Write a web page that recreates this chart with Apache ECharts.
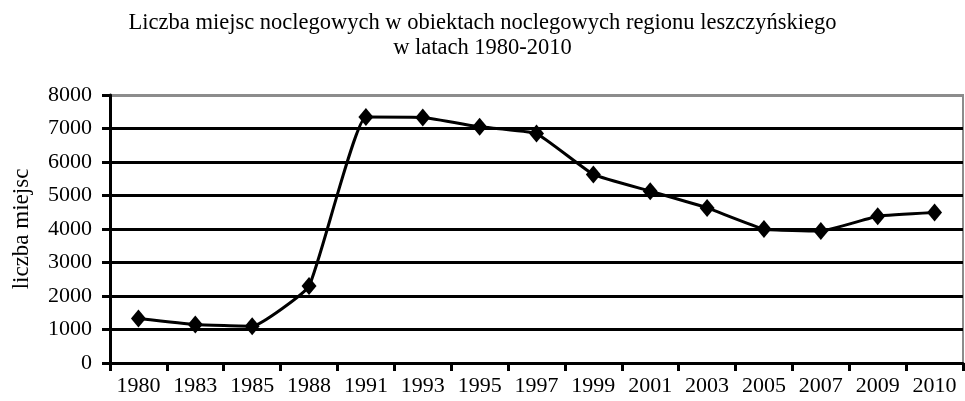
<!DOCTYPE html>
<html style="height: 100%">
<head>
    <meta charset="utf-8">
    <title>Liczba miejsc noclegowych</title>
    <script src="https://cdn.jsdelivr.net/npm/echarts@6/dist/echarts.min.js"></script>
</head>
<body style="height: 100%; margin: 0; background: #fff">
<div id="chart1" style="width: 965px; height: 401px"></div>
<script type="text/javascript">
    // lata i liczba miejsc noclegowych
    var years = ['1980', '1983', '1985', '1988', '1991', '1993', '1995', '1997',
        '1999', '2001', '2003', '2005', '2007', '2009', '2010'];
    var places = [1330, 1150, 1100, 2300, 7340, 7330, 7050, 6850,
        5630, 5130, 4630, 4000, 3940, 4380, 4490];
    var yTicks = [0, 1000, 2000, 3000, 4000, 5000, 6000, 7000, 8000];

    var serif = '"Liberation Serif", "Times New Roman", serif';
    var myChart1 = echarts.init(document.getElementById('chart1'));

    // ostatnia linia siatki (8000) jest szara jak ramka wykresu
    var gridColors = yTicks.map(function (v, i) {
        return i === yTicks.length - 1 ? '#8c8c8c' : '#000';
    });

    myChart1.setOption({
        animation: false,
        title: {
            text: 'Liczba miejsc noclegowych w obiektach noclegowych regionu leszczyńskiego\nw latach 1980-2010',
            left: 'center',
            top: 6,
            textStyle: {
                fontFamily: serif,
                fontSize: 22.5,
                fontWeight: 'normal',
                color: '#000',
                lineHeight: 25,
                align: 'center'
            }
        },
        grid: {
            left: 110,
            right: 2,
            top: 95,
            bottom: 38,
            show: true,
            borderColor: '#8c8c8c',
            borderWidth: 2
        },
        xAxis: {
            type: 'category',
            data: years,
            boundaryGap: true,
            axisLine: {lineStyle: {color: '#000', width: 3}},
            axisTick: {show: true, length: 8, lineStyle: {color: '#000', width: 3}},
            axisLabel: {
                fontFamily: serif,
                fontSize: 22,
                color: '#000',
                margin: 12,
                interval: 0
            },
            splitLine: {show: false}
        },
        yAxis: {
            type: 'value',
            min: 0,
            max: 8000,
            interval: 1000,
            name: 'liczba miejsc',
            nameLocation: 'middle',
            nameGap: 77,
            nameTextStyle: {fontFamily: serif, fontSize: 23, color: '#000'},
            axisLine: {show: true, lineStyle: {color: '#000', width: 3}},
            axisTick: {show: true, length: 8, lineStyle: {color: '#000', width: 3}},
            axisLabel: {
                fontFamily: serif,
                fontSize: 22,
                color: '#000',
                margin: 18,
                formatter: function (v) { return String(v); }
            },
            splitLine: {show: true, lineStyle: {color: gridColors, width: 3}}
        },
        series: [
            {
                name: 'liczba miejsc',
                type: 'line',
                data: places,
                smooth: 0.12,
                symbol: 'diamond',
                symbolSize: [15, 18],
                itemStyle: {color: '#000'},
                lineStyle: {color: '#000', width: 3}
            }
        ]
    });
</script>
</body>
</html>
